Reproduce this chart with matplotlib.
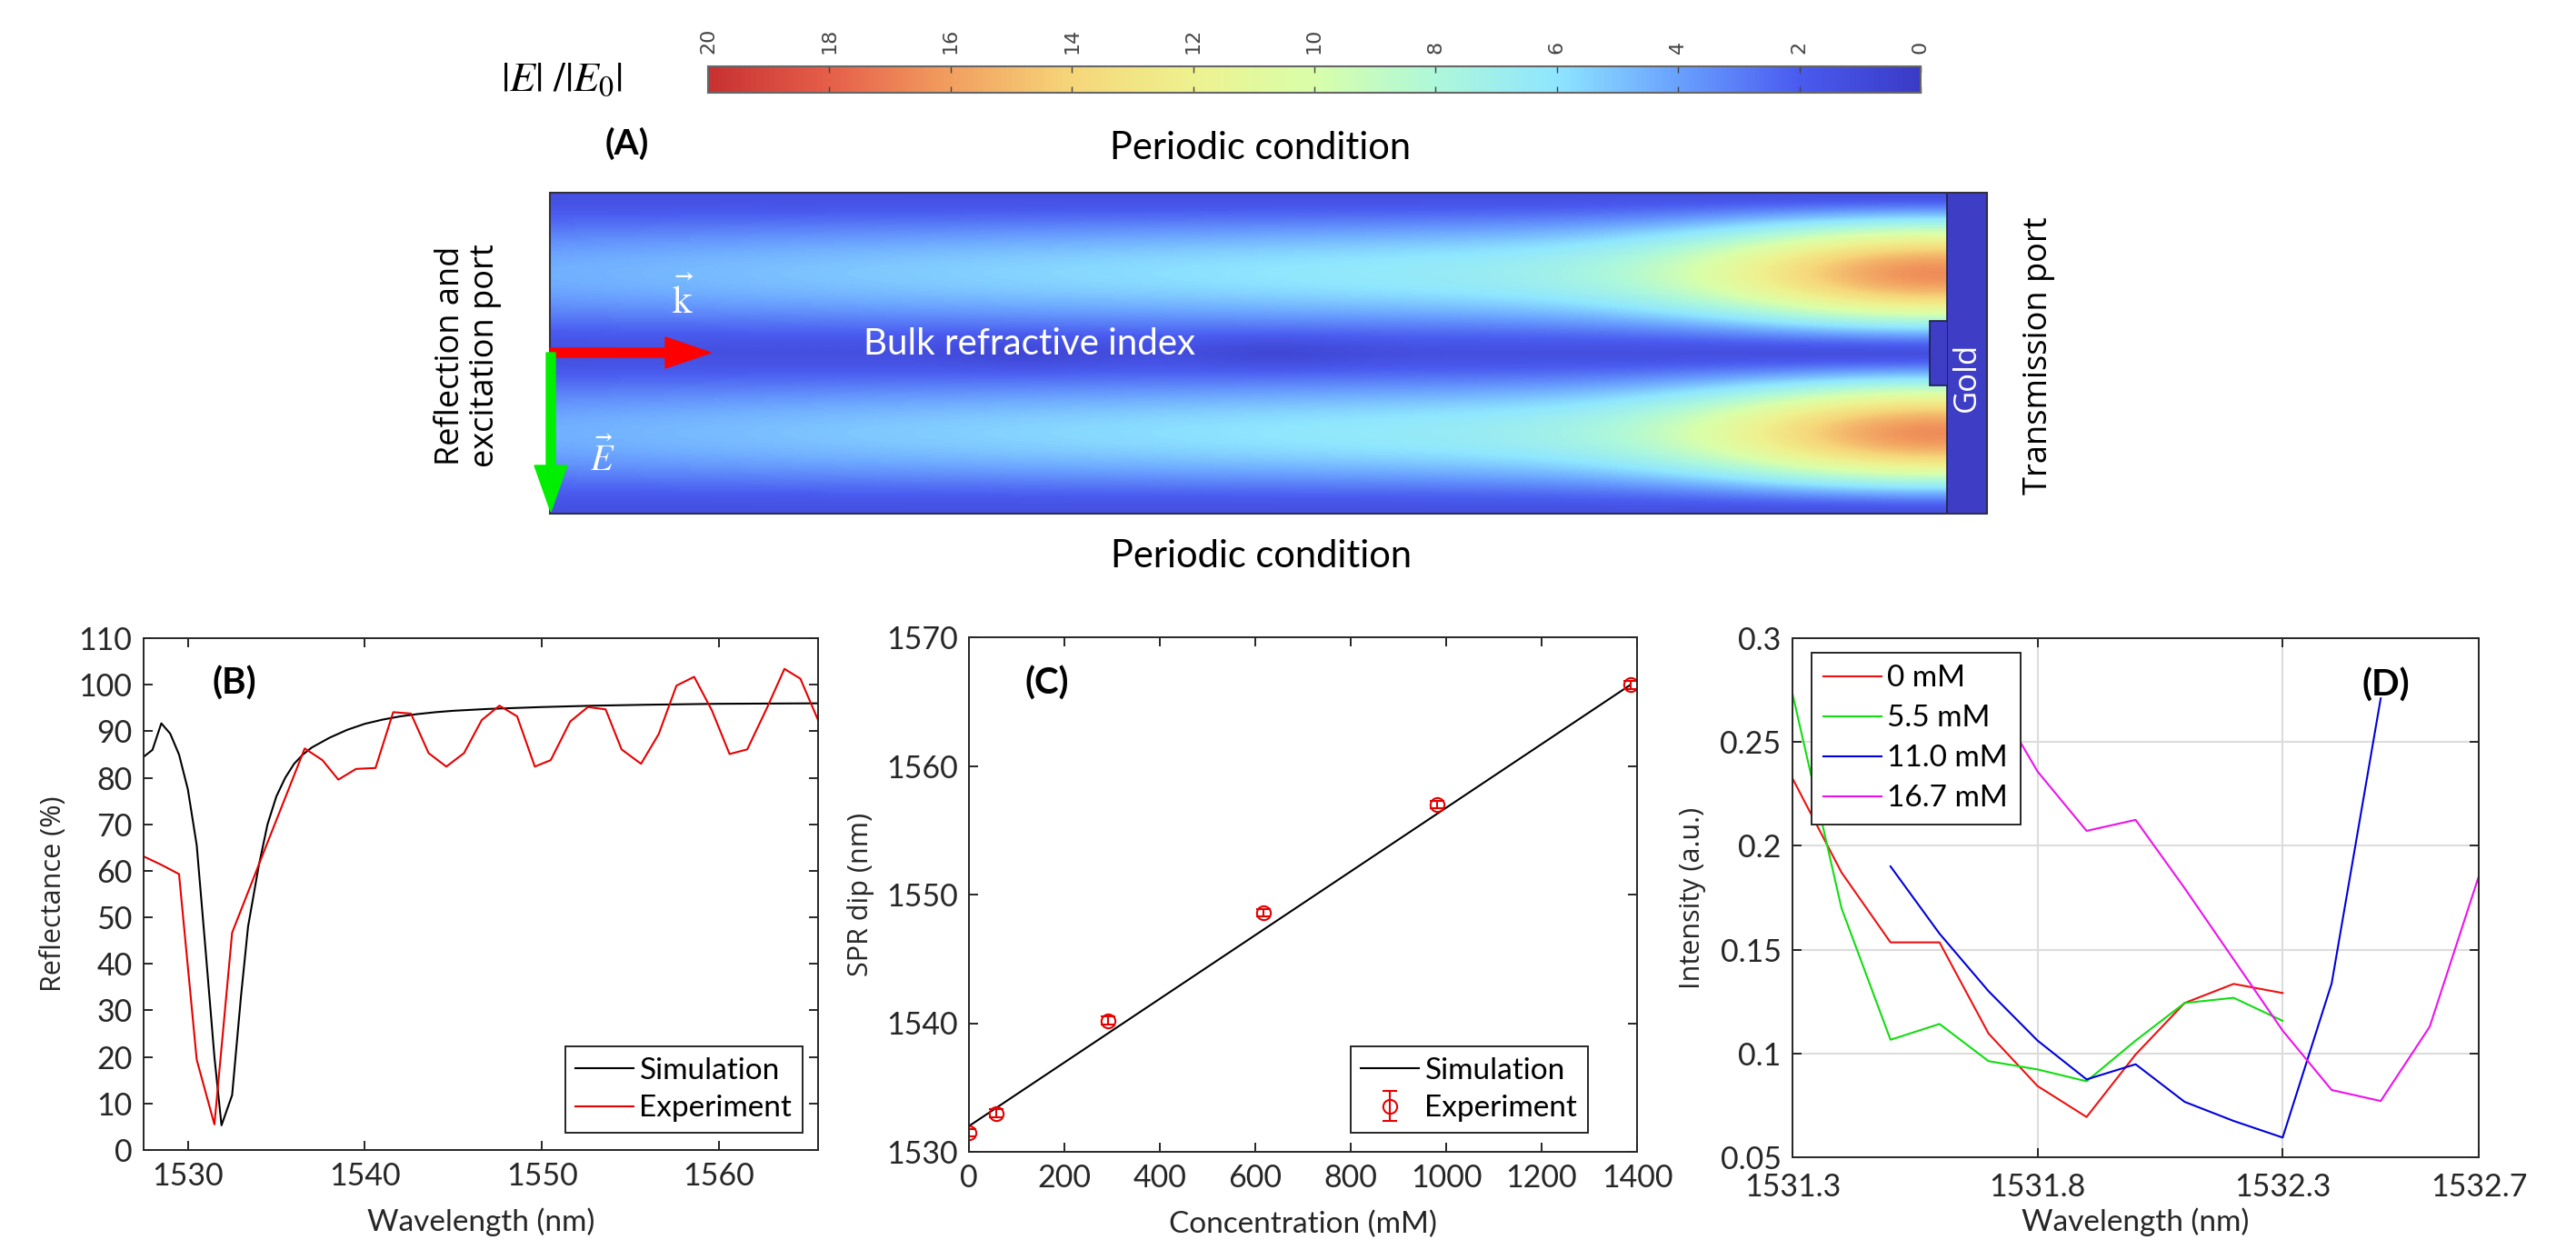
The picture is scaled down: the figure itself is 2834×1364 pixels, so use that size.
import numpy as np
import matplotlib
matplotlib.use('Agg')
import matplotlib.pyplot as plt
from matplotlib.colors import LinearSegmentedColormap
from matplotlib.patches import Rectangle, Polygon, FancyArrow

plt.rcParams['font.family'] = ['Lato', 'DejaVu Sans']
plt.rcParams['mathtext.fontset'] = 'stix'

# ---------------- Data ----------------
# (B) Reflectance spectra
sim_wl = [1527.5, 1528.0, 1528.5, 1529.0, 1529.5, 1530.0, 1530.5, 1531.0, 1531.5, 1531.9,
          1532.5, 1533.0, 1533.4, 1534.0, 1534.5, 1535.0, 1535.5, 1536.0, 1536.5, 1537.0,
          1538.0, 1539.0, 1540.0, 1541.0, 1542.0, 1543.0, 1544.0, 1545.0, 1547.0, 1550.0,
          1553.0, 1556.0, 1560.0, 1565.6]
sim_R = [84.5, 86.0, 91.7, 89.5, 85.0, 77.5, 65.5, 43.0, 20.0, 5.3,
         11.8, 33.0, 48.0, 61.0, 70.0, 76.0, 80.0, 83.0, 85.0, 86.5,
         88.6, 90.3, 91.6, 92.5, 93.2, 93.7, 94.1, 94.4, 94.8, 95.2,
         95.5, 95.7, 95.9, 96.0]
exp_wl = [1527.5, 1528.5, 1529.5, 1530.5, 1531.5, 1532.5, 1533.5, 1534.5, 1535.5, 1536.6,
          1537.6, 1538.5, 1539.5, 1540.6, 1541.6, 1542.6, 1543.6, 1544.6, 1545.6, 1546.6,
          1547.6, 1548.6, 1549.6, 1550.5, 1551.6, 1552.6, 1553.6, 1554.5, 1555.6, 1556.6,
          1557.6, 1558.6, 1559.6, 1560.6, 1561.6, 1562.7, 1563.7, 1564.6, 1565.6]
exp_R = [63.1, 61.3, 59.3, 19.4, 5.5, 46.7, 56.4, 66.1, 75.7, 86.3,
         83.8, 79.6, 81.9, 82.1, 94.1, 93.8, 85.3, 82.4, 85.3, 92.4,
         95.5, 93.2, 82.4, 83.8, 92.1, 95.2, 94.7, 86.1, 83.0, 89.4,
         99.8, 101.7, 94.5, 85.1, 86.1, 94.9, 103.4, 101.3, 92.4]

# (C) SPR dip vs concentration
conc = [0, 57, 291, 618, 981, 1386]
dip = [1531.5, 1533.0, 1540.2, 1548.6, 1557.0, 1566.3]
dip_err = [0.3, 0.3, 0.3, 0.3, 0.3, 0.3]
sim_conc = [0, 1386]
sim_dip = [1532.0, 1566.3]

# (D) Intensity spectra
wl_0 = [1531.3, 1531.4, 1531.5, 1531.6, 1531.7, 1531.8, 1531.9, 1532.0, 1532.1, 1532.2, 1532.3]
I_0 = [0.2325, 0.1872, 0.1535, 0.1535, 0.1096, 0.0843, 0.0694, 0.0995, 0.1243, 0.1335, 0.1291]
wl_55 = [1531.3, 1531.4, 1531.5, 1531.6, 1531.7, 1531.8, 1531.9, 1532.0, 1532.1, 1532.2, 1532.3]
I_55 = [0.2733, 0.1700, 0.1066, 0.1142, 0.0963, 0.0923, 0.0866, 0.1062, 0.1243, 0.1268, 0.1157]
wl_110 = [1531.5, 1531.6, 1531.7, 1531.8, 1531.9, 1532.0, 1532.1, 1532.2, 1532.3, 1532.4, 1532.5]
I_110 = [0.1901, 0.1577, 0.1300, 0.1062, 0.0875, 0.0948, 0.0767, 0.0675, 0.0595, 0.1338, 0.2710]
wl_167 = [1531.7, 1531.8, 1531.9, 1532.0, 1532.1, 1532.2, 1532.3, 1532.4, 1532.5, 1532.6, 1532.7]
I_167 = [0.2760, 0.2358, 0.2072, 0.2125, 0.1796, 0.1453, 0.1110, 0.0824, 0.0771, 0.1129, 0.1853]
d_labels = ['0 mM', '5.5 mM', '11.0 mM', '16.7 mM']

cbar_ticks = [0, 2, 4, 6, 8, 10, 12, 14, 16, 18, 20]

# ---------------- Figure ----------------
W, H = 2834, 1364
fig = plt.figure(figsize=(W / 100, H / 100), dpi=100)

def ax_rect(x0, x1, y0, y1):
    return [x0 / W, 1 - y1 / H, (x1 - x0) / W, (y1 - y0) / H]

DARK = '#262626'
WIDE = ['Open Sans', 'DejaVu Sans']

def style(ax, xpad=9):
    for s in ax.spines.values():
        s.set_color(DARK)
        s.set_linewidth(1.4)
    ax.tick_params(direction='in', top=True, right=True, length=7, width=1.4,
                   colors=DARK, labelsize=24.5, pad=9)
    ax.tick_params(axis='x', pad=xpad)

def labels(ax, xl, yl, xy, yx):
    ax.set_xlabel(xl, fontsize=24, color=DARK)
    ax.set_ylabel(yl, fontsize=22, color=DARK, family=WIDE)
    ax.xaxis.label.set_va('center')
    ax.yaxis.label.set_va('center')
    ax.xaxis.set_label_coords(0.5, xy)
    ax.yaxis.set_label_coords(yx, 0.5)

# colormap (COMSOL RainbowLight-like)
cm_colors = ['#3b3bc6', '#4a5cf0', '#6aa2ff', '#8fe6ff', '#aef8da', '#d9ffaa',
             '#eef290', '#f6d77a', '#f2a060', '#e6604a', '#c83232']
cmap = LinearSegmentedColormap.from_list('rl', cm_colors)

# ---- overlay for panel A ----
ov = fig.add_axes([0, 0, 1, 1], zorder=5)
ov.axis('off')

fx0, fx1, fy0, fy1 = 605, 2142, 212, 565
gx1 = 2186
u = np.linspace(0, 1, 700)
v = np.linspace(0, 1, 240)
U, V = np.meshgrid(u, v)
A = 3.1 + 3.2 * U + 9.0 * np.exp(-((U - 0.99) / 0.16) ** 2)
lobe = np.abs(np.sin(2 * np.pi * V))
field = 1.3 + A * lobe ** 1.6
field -= 0.5 * np.exp(-((U - 0.34) / 0.06) ** 2 - ((V - 0.5) / 0.05) ** 2)
field -= 0.5 * np.exp(-((U - 0.52) / 0.06) ** 2 - ((V - 0.5) / 0.05) ** 2)
ov.imshow(field, extent=[fx0, fx1, fy1, fy0], cmap=cmap, vmin=0, vmax=20,
          aspect='auto', interpolation='bilinear', zorder=1)
ov.add_patch(Rectangle((fx1, fy0), gx1 - fx1, fy1 - fy0, facecolor='#3d3dc6',
                       edgecolor='#202040', lw=1.2, zorder=2))
ov.add_patch(Polygon([[fx1, 353], [2123, 353], [2123, 424], [fx1, 424]], closed=False,
                     facecolor='#3d3dc6', edgecolor='#202040', lw=1.2, zorder=3))
ov.add_patch(Rectangle((fx0, fy0), gx1 - fx0, fy1 - fy0, facecolor='none',
                       edgecolor='#303040', lw=1.5, zorder=3))
ov.set_xlim(0, W)
ov.set_ylim(H, 0)

ov.add_patch(FancyArrow(605, 388, 177, 0, width=10, head_width=34, head_length=50,
                        length_includes_head=True, color='#ff0000', zorder=4))
ov.add_patch(FancyArrow(606, 388, 0, 175, width=10, head_width=36, head_length=51,
                        length_includes_head=True, color='#00ee00', zorder=4))

ov.text(752, 328, r'$\vec{\mathrm{k}}$', color='white', fontsize=31, ha='center', va='center', zorder=6)
ov.text(663, 503, r'$\vec{E}$', color='white', fontsize=29, ha='center', va='center', zorder=6)
ov.text(1133, 379, 'Bulk refractive index', color='white', fontsize=29, ha='center', va='center', zorder=6)
ov.text(2164, 415, 'Gold', color='white', fontsize=25, rotation=90, ha='center', va='center',
        family=WIDE, zorder=6)
ov.text(2243, 391, 'Transmission port', color='black', fontsize=26, rotation=90, ha='center',
        va='center', family=WIDE, zorder=6)
ov.text(515, 391, 'Reflection and\nexcitation port', color='black', fontsize=26, rotation=90,
        ha='center', va='center', multialignment='center', linespacing=1.1,
        family=WIDE, zorder=6)
ov.text(1387, 163, 'Periodic condition', fontsize=30, ha='center', va='center', zorder=6)
ov.text(1388, 612, 'Periodic condition', fontsize=30, ha='center', va='center', zorder=6)
ov.text(690, 158, '(A)', fontsize=28, fontweight='bold', ha='center', va='center', zorder=6)
ov.text(618, 87, r'$|E|\ /|E_0|$', fontsize=33, ha='center', va='center', zorder=6)

# ---- colorbar ----
cax = fig.add_axes(ax_rect(779, 2113, 73, 102), zorder=6)
grad = np.linspace(0, 20, 512)[None, :]
cax.imshow(grad, extent=[0, 20, 0, 1], cmap=cmap, vmin=0, vmax=20, aspect='auto')
cax.set_xlim(20, 0)
cax.set_ylim(0, 1)
cax.set_yticks([])
cax.set_xticks(cbar_ticks)
cax.set_xticklabels([str(t) for t in cbar_ticks], rotation=90, fontsize=16,
                    family=['DejaVu Sans'], color='#333333')
cax.tick_params(axis='x', direction='in', top=True, bottom=True, labeltop=True,
                labelbottom=False, length=5, width=1.0, colors='#444444', pad=10)
for s in cax.spines.values():
    s.set_color('#666666')
    s.set_linewidth(1.5)

# ---- (B) ----
axB = fig.add_axes(ax_rect(158, 900, 702, 1265))
axB.plot(sim_wl, sim_R, color='black', lw=1.5, label='Simulation')
axB.plot(exp_wl, exp_R, color='#e60000', lw=1.5, label='Experiment')
axB.set_xlim(1527.5, 1565.6)
axB.set_ylim(0, 110)
axB.set_xticks([1530, 1540, 1550, 1560])
axB.set_yticks(range(0, 111, 10))
style(axB)
labels(axB, 'Wavelength (nm)', 'Reflectance (%)', -0.140, -0.133)
axB.text(0.134, 0.911, '(B)', transform=axB.transAxes, fontsize=29, fontweight='bold',
         ha='center', va='center')
legB = axB.legend(loc='lower right', bbox_to_anchor=(0.977, 0.034), borderaxespad=0,
                  fontsize=24, fancybox=False, edgecolor=DARK, framealpha=1,
                  handlelength=1.9, handletextpad=0.2, borderpad=0.35, labelspacing=0.35)
legB.get_frame().set_linewidth(1.4)

# ---- (C) ----
axC = fig.add_axes(ax_rect(1066, 1801, 701, 1267))
axC.plot(sim_conc, sim_dip, color='black', lw=1.5, label='Simulation')
axC.errorbar(conc, dip, yerr=dip_err, fmt='o', color='#e60000', mfc='none', ms=11,
             mew=1.5, elinewidth=1.5, capsize=6, capthick=1.5, label='Experiment')
axC.set_xlim(0, 1400)
axC.set_ylim(1530, 1570)
axC.set_xticks(range(0, 1401, 200))
axC.set_yticks(range(1530, 1571, 10))
style(axC)
labels(axC, 'Concentration (mM)', 'SPR dip (nm)', -0.141, -0.162)
axC.text(0.117, 0.910, '(C)', transform=axC.transAxes, fontsize=29, fontweight='bold',
         ha='center', va='center')
legC = axC.legend(loc='lower right', bbox_to_anchor=(0.9265, 0.037), borderaxespad=0,
                  fontsize=24, fancybox=False, edgecolor=DARK, framealpha=1,
                  handlelength=1.9, handletextpad=0.2, borderpad=0.35, labelspacing=0.35)
legC.get_frame().set_linewidth(1.4)

# ---- (D) ----
axD = fig.add_axes(ax_rect(1972, 2727, 702, 1273))
axD.plot(wl_0, I_0, color='#ee1111', lw=1.5, label=d_labels[0])
axD.plot(wl_55, I_55, color='#11dd11', lw=1.5, label=d_labels[1])
axD.plot(wl_110, I_110, color='#0000dd', lw=1.5, label=d_labels[2])
axD.plot(wl_167, I_167, color='#ee11ee', lw=1.5, label=d_labels[3])
axD.set_xlim(1531.3, 1532.7)
axD.set_ylim(0.05, 0.3)
axD.set_xticks([1531.3, 1531.8, 1532.3, 1532.7])
axD.set_xticklabels(['1531.3', '1531.8', '1532.3', '1532.7'])
axD.set_yticks([0.05, 0.1, 0.15, 0.2, 0.25, 0.3])
axD.set_yticklabels(['0.05', '0.1', '0.15', '0.2', '0.25', '0.3'])
style(axD, xpad=12)
axD.grid(True, color='#dcdcdc', lw=1.5)
axD.set_axisbelow(True)
labels(axD, 'Wavelength (nm)', 'Intensity (a.u.)', -0.1255, -0.146)
axD.text(0.864, 0.909, '(D)', transform=axD.transAxes, fontsize=29, fontweight='bold',
         ha='center', va='center')
legD = axD.legend(loc='upper left', bbox_to_anchor=(0.028, 0.972), borderaxespad=0,
                  fontsize=24, fancybox=False, edgecolor=DARK, framealpha=1,
                  handlelength=1.9, handletextpad=0.2, borderpad=0.4, labelspacing=0.42)
legD.get_frame().set_linewidth(1.4)

fig.savefig('out.png', dpi=100)
